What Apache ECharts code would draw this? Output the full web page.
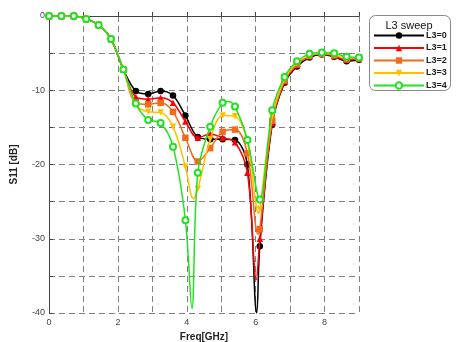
<!DOCTYPE html>
<html><head><meta charset="utf-8">
<script src="https://cdn.jsdelivr.net/npm/echarts@6/dist/echarts.min.js"></script>
<style>html,body{margin:0;padding:0;background:#fff}#c{width:456px;height:342px}</style>
</head><body><div id="c"></div>
<script>
// Frequencies of marker points (GHz)
const freq = [0,0.36,0.72,1.08,1.44,1.8,2.16,2.52,2.88,3.24,3.6,3.96,4.32,4.68,5.04,5.4,5.76,6.12,6.48,6.84,7.2,7.56,7.92,8.28,8.64,9.0];
const seriesNames = ['L3=0','L3=1','L3=2','L3=3','L3=4'];
// S11 values (dB) at marker frequencies
const s11_L0 = [0,0,0,-0.4,-1.2,-3.1,-7.2,-10.1,-10.5,-10.1,-10.7,-13.4,-16.3,-16.6,-16.6,-16.7,-20.0,-31.0,-14.6,-9.0,-6.8,-5.6,-5.2,-5.5,-6.1,-5.9];
const s11_L1 = [0,0,0,-0.4,-1.2,-3.1,-7.2,-10.9,-11.2,-11.0,-11.7,-14.2,-16.4,-15.9,-16.4,-17.0,-21.1,-30.0,-14.4,-8.8,-6.6,-5.4,-5.1,-5.4,-5.9,-5.8];
const s11_L2 = [0,0,0,-0.4,-1.2,-3.1,-7.2,-11.7,-11.9,-11.7,-12.9,-16.4,-19.6,-17.8,-15.6,-15.3,-18.5,-28.7,-14.1,-8.7,-6.5,-5.4,-5.1,-5.3,-5.8,-5.7];
const s11_L3 = [0,0,0,-0.4,-1.2,-3.1,-7.2,-11.9,-12.9,-13.0,-14.9,-20.3,-23.3,-16.6,-13.4,-13.5,-17.0,-26.0,-13.5,-8.5,-6.3,-5.3,-5.0,-5.2,-5.7,-5.6];
const s11_L4 = [0,0,0,-0.4,-1.2,-3.1,-7.2,-11.8,-14.0,-14.4,-17.6,-27.5,-21.1,-14.9,-11.7,-12.2,-16.7,-24.7,-12.7,-8.2,-6.1,-5.1,-4.9,-5.0,-5.5,-5.6];
// resonance minima / peaks between marker points [freq, dB]
const dips_L0 = [[6.03,-40]];
const dips_L1 = [[6.02,-35.5]];
const dips_L2 = [[6.07,-29.4]];
const dips_L3 = [[4.19,-24.6],[6.09,-26.6]];
const dips_L4 = [[4.15,-39.4],[5.2,-11.5]];
const xTicks = [0,2,4,6,8];
const yTicks = [0,-10,-20,-30,-40];

const colors = ['#000000','#ff0000','#f26b1d','#ffc000','#22e022'];
const symbols = ['circle','triangle','rect','path://M0,0 L10,0 L5,9 Z','emptyCircle'];
const vals = [s11_L0,s11_L1,s11_L2,s11_L3,s11_L4];
const dips = [dips_L0,dips_L1,dips_L2,dips_L3,dips_L4];

function build(i){
  const pts = freq.map((f,k)=>({value:[f,vals[i][k]]}));
  dips[i].forEach(d=>pts.push({value:d,symbol:'none'}));
  pts.sort((a,b)=>a.value[0]-b.value[0]);
  return pts;
}

const chart = echarts.init(document.getElementById('c'));
const font = 'Arial, "Liberation Sans", sans-serif';
chart.setOption({
  animation:false,
  backgroundColor:'#fff',
  grid:{left:49,right:97,top:16,bottom:29,containLabel:false,outerBoundsMode:'none'},
  xAxis:{type:'value',min:0,max:9,interval:1,
    name:'Freq[GHz]',nameLocation:'middle',nameGap:15,
    nameTextStyle:{fontFamily:font,fontWeight:'bold',fontSize:10,color:'#222'},
    axisLine:{show:true,lineStyle:{color:'#444',width:1}},
    axisTick:{show:true,inside:true,length:4,lineStyle:{color:'#444'}},
    axisLabel:{fontFamily:font,fontSize:9,color:'#444',margin:5,
      formatter:v=>xTicks.indexOf(v)>=0?String(v):''},
    splitLine:{show:true,lineStyle:{color:'#808080',type:[6,4],width:1}}},
  yAxis:{type:'value',min:-40,max:0,interval:5,
    name:'S11 [dB]',nameLocation:'middle',nameGap:30,nameRotate:90,
    nameTextStyle:{fontFamily:font,fontWeight:'bold',fontSize:10,color:'#222'},
    axisLine:{show:true,lineStyle:{color:'#444',width:1}},
    axisTick:{show:true,inside:true,length:4,lineStyle:{color:'#444'}},
    axisLabel:{fontFamily:font,fontSize:9,color:'#444',margin:4,
      formatter:v=>yTicks.indexOf(v)>=0?String(v):''},
    splitLine:{show:true,lineStyle:{color:'#808080',type:[6,4],width:1}}},
  legend:{orient:'vertical',left:373,top:31,padding:0,itemWidth:50,itemHeight:8,itemGap:3.5,
    data:seriesNames,
    textStyle:{fontFamily:font,fontWeight:'bold',fontSize:9,color:'#222',padding:[0,0,0,-3]}},
  graphic:[
    {type:'rect',shape:{x:369.5,y:15.5,width:81,height:75,r:6},
      style:{fill:'#fff',stroke:'#888',lineWidth:1},z:-1},
    {type:'text',x:409,y:20,style:{text:'L3 sweep',fontFamily:font,fontSize:11,fill:'#111',align:'center',verticalAlign:'top'},z:10}
  ],
  series:seriesNames.map((n,i)=>({
    name:n,type:'line',data:build(i),smooth:0.35,
    symbol:symbols[i],symbolSize:i===4?6:6.5,
    showAllSymbol:true,clip:true,
    lineStyle:{color:colors[i],width:1.5},
    itemStyle:{color:colors[i],borderColor:colors[i],borderWidth:i===4?1:0},
    z:2+i
  }))
});
</script></body></html>
